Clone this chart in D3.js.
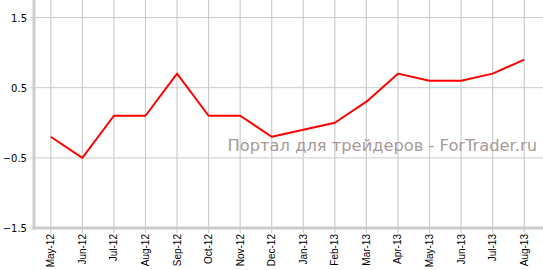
<!DOCTYPE html>
<html lang="ru">
<head>
<meta charset="utf-8">
<script type="text/javascript" src="https://cdnjs.cloudflare.com/ajax/libs/d3/7.8.5/d3.min.js"></script>
<style>
body { margin: 0; background: #fff; }
svg { display: block; }
</style>
</head>
<body>
<script type="text/javascript">
    var months = ["May-12", "Jun-12", "Jul-12", "Aug-12", "Sep-12", "Oct-12", "Nov-12", "Dec-12",
                  "Jan-13", "Feb-13", "Mar-13", "Apr-13", "May-13", "Jun-13", "Jul-13", "Aug-13"]
    var values = [-0.2, -0.5, 0.1, 0.1, 0.7, 0.1, 0.1, -0.2, -0.1, 0.0, 0.3, 0.7, 0.6, 0.6, 0.7, 0.9]
    var yTicks = [-1.5, -0.5, 0.5, 1.5]
    var watermark = "Портал для трейдеров - ForTrader.ru"

    var w = 543
    var h = 270
    var left = 34
    var bottom = 228

    var svg = d3.select("body")
                .append("svg")
                .attr("width", w)
                .attr("height", h)

    var x = d3.scalePoint()
              .domain(months)
              .range([35, 540])
              .padding(0.5)

    var y = d3.scaleLinear()
              .domain([-1.5, 1.5])
              .range([bottom, 17.5])

    // vertical grid
    svg.selectAll("line.vgrid")
        .data(months)
        .enter()
        .append("line")
        .attr("class", "vgrid")
        .attr("x1", function(d) { return x(d) })
        .attr("x2", function(d) { return x(d) })
        .attr("y1", 0)
        .attr("y2", bottom + 5)
        .attr("stroke", "#cccccc")
        .attr("stroke-width", 1.2)

    // horizontal grid
    svg.selectAll("line.hgrid")
        .data(yTicks)
        .enter()
        .append("line")
        .attr("class", "hgrid")
        .attr("x1", left - 4)
        .attr("x2", w)
        .attr("y1", function(d) { return y(d) })
        .attr("y2", function(d) { return y(d) })
        .attr("stroke", "#cccccc")
        .attr("stroke-width", 1)

    // axis lines
    svg.append("line")
        .attr("x1", left).attr("x2", left)
        .attr("y1", 0).attr("y2", bottom + 1.5)
        .attr("stroke", "#cccccc")
        .attr("stroke-width", 3)

    svg.append("line")
        .attr("x1", left - 1.5).attr("x2", w)
        .attr("y1", bottom).attr("y2", bottom)
        .attr("stroke", "#cccccc")
        .attr("stroke-width", 3)

    // y labels
    svg.selectAll("text.ylab")
        .data(yTicks)
        .enter()
        .append("text")
        .attr("class", "ylab")
        .text(function(d) { return d3.format(".1f")(d) })
        .attr("x", 27)
        .attr("y", function(d) { return y(d) + 4 })
        .attr("text-anchor", "end")
        .attr("font-family", "DejaVu Sans, Verdana, sans-serif")
        .attr("font-size", "10px")
        .attr("fill", "#000")

    // x labels
    svg.selectAll("text.xlab")
        .data(months)
        .enter()
        .append("text")
        .attr("class", "xlab")
        .text(function(d) { return d })
        .attr("transform", function(d) {
            return "translate(" + (x(d) + 3.5) + "," + 234 + ") rotate(-90)"
        })
        .attr("text-anchor", "end")
        .attr("font-family", "Liberation Sans, Arial, sans-serif")
        .attr("font-size", "10px")
        .attr("fill", "#000")

    // watermark
    svg.append("text")
        .text(watermark)
        .attr("x", 537)
        .attr("y", 151)
        .attr("text-anchor", "end")
        .attr("font-family", "DejaVu Sans, Verdana, sans-serif")
        .attr("font-size", "16.3px")
        .attr("fill", "#a89a9a")

    // series
    var line = d3.line()
                 .x(function(d, i) { return x(months[i]) })
                 .y(function(d) { return y(d) })

    svg.append("path")
        .datum(values)
        .attr("d", line)
        .attr("fill", "none")
        .attr("stroke", "#ff0000")
        .attr("stroke-width", 2)
        .attr("stroke-linejoin", "round")
</script>
</body>
</html>
